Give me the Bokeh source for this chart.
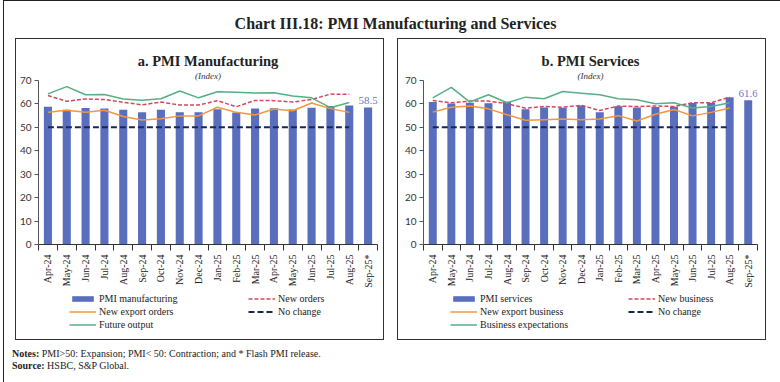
import math
from bokeh.plotting import figure
from bokeh.models import (Range1d, FixedTicker, Legend, LegendItem, Title, Div, LabelSet,
                          ColumnDataSource)
from bokeh.layouts import column, row
from bokeh.embed import file_html
from bokeh.resources import INLINE

months = ["Apr-24", "May-24", "Jun-24", "Jul-24", "Aug-24", "Sep-24", "Oct-24", "Nov-24", "Dec-24",
          "Jan-25", "Feb-25", "Mar-25", "Apr-25", "May-25", "Jun-25", "Jul-25", "Aug-25", "Sep-25*"]

pmi_manufacturing = [58.8, 57.5, 58.3, 58.1, 57.5, 56.5, 57.5, 56.5, 56.4, 57.7, 56.3, 58.1, 58.2, 57.6, 58.4, 59.1, 59.3, 58.5]
new_orders = [63.6, 61.1, 62.1, 61.9, 60.7, 59.6, 60.8, 59.5, 59.5, 61.4, 58.8, 61.5, 61.4, 60.8, 61.9, 64.2, 64.1]
new_export_orders = [56.4, 57.3, 56.4, 57.3, 54.6, 53.1, 53.7, 54.9, 54.9, 58.6, 56.4, 55.3, 57.8, 57.1, 60.4, 58.0, 56.4]
future_output = [64.3, 67.4, 63.9, 64.0, 62.1, 61.6, 62.2, 65.5, 62.6, 65.2, 65.0, 64.7, 64.8, 63.4, 62.6, 58.4, 60.6]

pmi_services = [60.8, 60.2, 60.5, 60.3, 60.9, 57.7, 58.5, 58.4, 59.3, 56.5, 59.0, 58.5, 58.7, 58.8, 60.4, 60.5, 62.9, 61.6]
new_business = [61.5, 60.5, 61.2, 61.2, 60.1, 58.2, 58.9, 58.6, 59.4, 57.2, 59.1, 58.9, 59.1, 58.9, 60.5, 60.5, 62.9]
new_export_business = [56.5, 58.6, 59.1, 57.9, 55.4, 53.0, 53.3, 53.6, 53.3, 53.6, 55.0, 52.7, 55.6, 57.6, 54.9, 56.4, 58.3]
business_expectations = [62.6, 67.1, 60.8, 63.9, 60.5, 62.9, 62.2, 65.3, 64.6, 63.9, 62.2, 61.8, 60.1, 60.5, 58.3, 58.9, 60.5]

no_change = [50] * 17
y_ticks = [0, 10, 20, 30, 40, 50, 60, 70]

BAR = "#5A6EBE"
RED = "#CF4A5E"
ORANGE = "#F5963F"
GREEN = "#55B084"
NAVY = "#1C2654"
SERIF = "Liberation Serif"
SANS = "Lato"

RED_STYLE = dict(line_color=RED, line_width=1.5, line_dash="4 2")
ORANGE_STYLE = dict(line_color=ORANGE, line_width=1.5)
GREEN_STYLE = dict(line_color=GREEN, line_width=1.5)
NAVY_STYLE = dict(line_color=NAVY, line_width=2, line_dash="6 3")


def chart(title, bars, red, orange, green, mb_left, mb_right):
    n = len(months)
    idx = list(range(n))
    p = figure(width=367, height=251, x_range=Range1d(-0.5, n - 0.5), y_range=Range1d(0, 70),
               output_backend="svg", toolbar_location=None, title=title,
               min_border_left=mb_left, min_border_right=mb_right,
               min_border_top=41, min_border_bottom=44)
    p.title.text_font = SERIF
    p.title.text_font_size = "14.5px"
    p.title.text_font_style = "bold"
    p.title.text_color = "#222222"
    p.title.align = "center"
    p.title.standoff = 0
    p.add_layout(Title(text="(Index)", text_font=SERIF, text_font_size="9px", standoff=0,
                       text_font_style="italic", align="center", text_color="#333333"), "above")
    p.outline_line_color = None
    p.xgrid.grid_line_color = None
    p.ygrid.grid_line_color = None

    src = ColumnDataSource(dict(x=idx, v=bars))
    p.vbar(x="x", top="v", width=0.43, source=src, fill_color=BAR, line_color=None)
    k = len(red)
    p.line(idx[:k], red, **RED_STYLE)
    p.line(idx[:k], orange, **ORANGE_STYLE)
    p.line(idx[:k], green, **GREEN_STYLE)
    p.line(idx[:k], no_change, **NAVY_STYLE)

    last = ColumnDataSource(dict(x=[idx[-1]], y=[bars[-1]], t=[f"{bars[-1]:.1f}"]))
    p.add_layout(LabelSet(x="x", y="y", text="t", source=last, text_align="center",
                          text_baseline="bottom", y_offset=3, text_font=SANS,
                          text_font_size="11px", text_color="#6677C4"))

    xa = p.xaxis[0]
    xa.ticker = FixedTicker(ticks=idx, minor_ticks=[i - 0.5 for i in range(n + 1)])
    xa.major_label_overrides = {i: m for i, m in enumerate(months)}
    xa.major_label_orientation = math.pi / 2
    xa.major_tick_line_color = None
    xa.major_tick_out = 0
    xa.major_tick_in = 0
    xa.minor_tick_in = 0
    xa.minor_tick_out = 6
    xa.minor_tick_line_color = "#333333"
    xa.axis_line_color = "#333333"
    xa.major_label_standoff = 4
    xa.major_label_text_font = SERIF
    xa.major_label_text_font_size = "10px"
    xa.major_label_text_color = "#222222"

    ya = p.yaxis[0]
    ya.ticker = FixedTicker(ticks=y_ticks)
    ya.minor_tick_line_color = None
    ya.major_tick_out = 4
    ya.major_tick_in = 0
    ya.major_tick_line_color = "#555555"
    ya.axis_line_color = "#555555"
    ya.major_label_standoff = 3
    ya.major_label_text_font = SANS
    ya.major_label_text_font_size = "10px"
    ya.major_label_text_color = "#333333"
    return p


def legend_fig(bar_name, red_name, orange_name, green_name, x1, x2):
    # legend-only figure; its swatch renderers sit outside the visible range
    q = figure(width=367, height=49, x_range=Range1d(0, 1), y_range=Range1d(0, 1),
               output_backend="svg", toolbar_location=None, x_axis_type=None, y_axis_type=None,
               min_border=0, outline_line_color=None)
    q.xgrid.grid_line_color = None
    q.ygrid.grid_line_color = None
    rb = q.vbar(x=[-5], top=[-5], width=0.5, fill_color=BAR, line_color=None)
    rr = q.line(x=[-5, -4], y=[-5, -5], **RED_STYLE)
    ro = q.line(x=[-5, -4], y=[-5, -5], **ORANGE_STYLE)
    rg = q.line(x=[-5, -4], y=[-5, -5], **GREEN_STYLE)
    rn = q.line(x=[-5, -4], y=[-5, -5], **NAVY_STYLE)
    common = dict(padding=0, margin=0, border_line_color=None, background_fill_alpha=0,
                  glyph_width=27, glyph_height=7, label_height=12, spacing=1,
                  label_standoff=3, label_text_font=SERIF, label_text_font_size="10px",
                  label_text_color="#222222")
    l1 = Legend(items=[LegendItem(label=bar_name, renderers=[rb]),
                       LegendItem(label=orange_name, renderers=[ro]),
                       LegendItem(label=green_name, renderers=[rg])],
                location=(x1, 9), **common)
    l2 = Legend(items=[LegendItem(label=red_name, renderers=[rr]),
                       LegendItem(label="No change", renderers=[rn])],
                location=(x2, 22), **common)
    q.add_layout(l1)
    q.add_layout(l2)
    return q


left = column(
    chart("a. PMI Manufacturing", pmi_manufacturing, new_orders, new_export_orders, future_output, 22, 6),
    legend_fig("PMI manufacturing", "New orders", "New export orders", "Future output", 31, 210),
    spacing=0, styles={"border": "1px solid #333"})
right = column(
    chart("b. PMI Services", pmi_services, new_business, new_export_business, business_expectations, 25, 8),
    legend_fig("PMI services", "New business", "New export business", "Business expectations", 27, 205),
    spacing=0, styles={"border": "1px solid #333"})

header = Div(text='<div style="font-family:\'Liberation Serif\';font-size:16px;font-weight:bold;'
                  'text-align:center;color:#222;padding-top:7px;width:773px">'
                  'Chart III.18: PMI Manufacturing and Services</div>',
             width=773, height=27)
notes = Div(text='<div style="font-family:\'Liberation Serif\';font-size:10px;line-height:12px;'
                 'color:#222;padding:3px 0 0 3px;white-space:nowrap">'
                 '<b>Notes:</b> PMI&gt;50: Expansion; PMI&lt; 50: Contraction; and * Flash PMI release.<br>'
                 '<b>Source:</b> HSBC, S&amp;P Global.</div>',
            width=773, height=43)

panels = row(left, right, spacing=13, margin=(0, 0, 0, 11))
layout = column(header, panels, notes, spacing=0, margin=(0, 0, 0, 3),
                styles={"border": "1px solid #222", "background": "white"})

open("out.html", "w").write(file_html(layout, INLINE))
